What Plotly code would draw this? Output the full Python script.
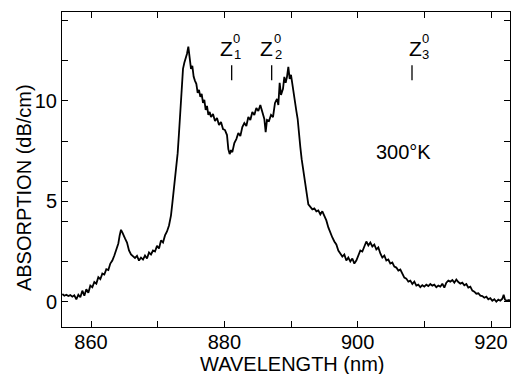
import plotly.graph_objects as go

# ---- data ----
wavelength = [
 855.7, 856.0, 856.3, 856.6, 856.9, 857.2, 857.5, 857.8, 858.1, 858.4, 858.7, 859.0, 859.3, 859.6, 859.9,
 860.2, 860.5, 860.8, 861.1, 861.4, 861.7, 862.0, 862.3, 862.6, 862.9, 863.2, 863.5, 863.8, 864.1, 864.3,
 864.5, 864.7, 864.9, 865.1, 865.4, 865.7, 866.0, 866.3, 866.6, 866.9, 867.2, 867.5, 867.8, 868.1, 868.4,
 868.7, 869.0, 869.3, 869.6, 869.9, 870.2, 870.5, 870.8, 871.1, 871.4, 871.7, 872.0, 872.2, 872.4, 872.6,
 872.8, 873.0, 873.2, 873.4, 873.6, 873.8, 874.0, 874.2, 874.4, 874.6, 874.8, 875.0, 875.2, 875.4, 875.6,
 875.8, 876.0, 876.2, 876.4, 876.6, 876.8, 877.0, 877.2, 877.4, 877.6, 877.8, 878.0, 878.3, 878.6, 878.9,
 879.2, 879.5, 879.8, 880.1, 880.4, 880.6, 880.8, 881.0, 881.2, 881.5, 881.8, 882.1, 882.4, 882.7, 883.0,
 883.3, 883.6, 883.9, 884.2, 884.5, 884.8, 885.1, 885.4, 885.7, 886.0, 886.2, 886.4, 886.7, 887.0, 887.3,
 887.6, 887.9, 888.1, 888.3, 888.5, 888.8, 889.0, 889.2, 889.4, 889.6, 889.8, 890.0, 890.2, 890.4, 890.6,
 890.8, 891.0, 891.2, 891.4, 891.6, 891.8, 892.0, 892.2, 892.4, 892.6, 892.9, 893.2, 893.5, 893.8, 894.1,
 894.4, 894.7, 895.0, 895.3, 895.6, 895.9, 896.2, 896.5, 896.8, 897.1, 897.4, 897.7, 898.0, 898.3, 898.6,
 898.9, 899.2, 899.5, 899.8, 900.1, 900.4, 900.7, 901.0, 901.3, 901.6, 901.9, 902.2, 902.5, 902.8, 903.1,
 903.4, 903.7, 904.0, 904.3, 904.6, 904.9, 905.2, 905.5, 905.8, 906.1, 906.4, 906.7, 907.0, 907.3, 907.6,
 907.9, 908.2, 908.5, 908.8, 909.1, 909.4, 909.7, 910.0, 910.3, 910.6, 910.9, 911.2, 911.5, 911.8, 912.1,
 912.4, 912.7, 913.0, 913.3, 913.6, 913.9, 914.2, 914.5, 914.8, 915.1, 915.4, 915.7, 916.0, 916.3, 916.6,
 916.9, 917.2, 917.5, 917.8, 918.1, 918.4, 918.7, 919.0, 919.3, 919.6, 919.9, 920.2, 920.5, 920.8, 921.1,
 921.4, 921.7, 921.9, 922.1, 922.4, 922.7, 923.0,
]
absorption = [
 0.38, 0.30, 0.35, 0.28, 0.33, 0.25, 0.32, 0.12, 0.35, 0.22, 0.55, 0.30, 0.62, 0.45, 0.80,
 0.72, 0.98, 0.90, 1.22, 1.12, 1.40, 1.35, 1.62, 1.58, 1.90, 2.05, 2.30, 2.55, 2.90, 3.30,
 3.58, 3.45, 3.25, 3.15, 2.95, 2.55, 2.35, 2.25, 2.18, 2.28, 2.05, 2.20, 2.10, 2.30, 2.15,
 2.45, 2.35, 2.55, 2.50, 2.78, 2.65, 3.05, 2.95, 3.30, 3.50, 3.80, 4.30, 4.90, 5.50, 6.20,
 6.90, 7.40, 8.40, 9.30, 10.60, 11.60, 11.90, 12.10, 12.35, 12.70, 12.20, 11.60, 11.75, 11.20, 11.00,
 10.85, 10.40, 10.55, 10.20, 10.35, 9.90, 10.05, 9.55, 9.75, 9.30, 9.45, 9.20, 9.35, 9.00, 9.15,
 8.80, 8.95, 8.60, 8.55, 8.30, 7.60, 7.35, 7.55, 7.45, 7.90, 8.10, 8.40, 8.25, 8.70, 8.90,
 8.75, 9.20, 9.05, 9.45, 9.30, 9.65, 9.50, 9.80, 9.45, 9.10, 8.45, 9.05, 9.00, 9.30, 9.20,
 9.90, 10.10, 9.80, 10.90, 10.30, 10.60, 11.20, 10.90, 11.20, 11.70, 11.10, 11.30, 10.80, 10.30, 9.90,
 9.50, 9.10, 8.20, 7.70, 7.10, 6.70, 6.20, 5.70, 5.30, 4.85, 4.75, 4.60, 4.65, 4.50, 4.55,
 4.35, 4.50, 4.30, 4.05, 3.70, 3.40, 3.20, 3.00, 2.85, 2.55, 2.40, 2.25, 2.35, 2.05, 2.20,
 2.00, 2.15, 1.90, 2.05, 2.30, 2.55, 2.50, 2.75, 3.00, 2.80, 2.95, 2.75, 2.85, 2.60, 2.70,
 2.40, 2.20, 2.30, 2.05, 2.10, 1.90, 1.95, 1.75, 1.70, 1.55, 1.60, 1.35, 1.20, 1.15, 1.00,
 1.05, 0.88, 1.00, 0.80, 0.85, 0.72, 0.82, 0.75, 0.85, 0.78, 0.88, 0.80, 0.85, 0.72, 0.80,
 0.75, 0.90, 0.70, 0.95, 1.05, 1.00, 1.08, 0.95, 1.10, 0.98, 0.90, 0.95, 0.82, 0.88, 0.70,
 0.75, 0.55, 0.50, 0.40, 0.42, 0.30, 0.28, 0.20, 0.25, 0.12, 0.18, 0.05, 0.12, 0.00, 0.10,
 0.05, 0.15, 0.35, 0.10, 0.05, 0.08, 0.00,
]

x_tickvals = [860, 870, 880, 890, 900, 910, 920]
x_ticktext = ["860", "", "880", "", "900", "", "920"]
y_tickvals = [0, 2, 4, 5, 6, 8, 10, 12, 14]
y_ticktext = ["0", "", "", "5", "", "", "10", "", ""]

z_positions = [881.1, 887.1, 908.15]
z_subscripts = ["1", "2", "3"]
temperature_label = "300°K"

FONT = "Liberation Sans"

fig = go.Figure()
fig.add_trace(go.Scatter(
    x=wavelength, y=absorption, mode="lines",
    line=dict(color="black", width=1.8), showlegend=False, hoverinfo="skip",
))

shapes = []
annotations = []
z_shift = [-4.7, -4.7, 3.0]
sup_shift = [5.0, 6.0, 13.0]
for i, zx in enumerate(z_positions):
    shapes.append(dict(type="line", xref="x", yref="y", x0=zx, x1=zx, y0=11.03, y1=11.78,
                       line=dict(color="black", width=1.3)))
    annotations.append(dict(x=zx, y=12.62, xref="x", yref="y", text="Z", showarrow=False,
                            xshift=z_shift[i], font=dict(family=FONT, size=21, color="black")))
    annotations.append(dict(x=zx, y=13.12, xref="x", yref="y", text="0", showarrow=False,
                            xshift=sup_shift[i], borderpad=0,
                            font=dict(family=FONT, size=13, color="black")))
    annotations.append(dict(x=zx, y=12.32, xref="x", yref="y", text=z_subscripts[i], showarrow=False,
                            xshift=sup_shift[i] + 0.5, borderpad=0,
                            font=dict(family=FONT, size=13, color="black")))

annotations.append(dict(x=906.8, y=7.45, xref="x", yref="y", text=temperature_label, showarrow=False,
                        font=dict(family=FONT, size=20, color="black")))
annotations.append(dict(x=0.513, y=-0.116, xref="paper", yref="paper", text="WAVELENGTH (nm)",
                        showarrow=False, yanchor="middle",
                        font=dict(family=FONT, size=20, color="black")))
annotations.append(dict(x=-0.085, y=0.444, xref="paper", yref="paper", text="ABSORPTION (dB/cm)",
                        showarrow=False, textangle=-90, xanchor="center", yanchor="middle",
                        font=dict(family=FONT, size=20, color="black")))

axis_common = dict(showline=True, linecolor="black", linewidth=1, mirror="ticks",
                   ticks="inside", ticklen=6, tickcolor="black", tickwidth=1,
                   showgrid=False, zeroline=False,
                   tickfont=dict(family=FONT, size=20, color="black"))

fig.update_layout(
    width=513, height=374,
    margin=dict(l=62, r=3, t=12, b=47),
    paper_bgcolor="white", plot_bgcolor="white",
    xaxis=dict(range=[855.65, 922.85], tickmode="array", tickvals=x_tickvals, ticktext=x_ticktext,
               ticklabelstandoff=-3, **axis_common),
    yaxis=dict(range=[-1.26, 14.43], tickmode="array", tickvals=y_tickvals, ticktext=y_ticktext,
               **axis_common),
    shapes=shapes, annotations=annotations,
)

fig.write_html("out.html")
